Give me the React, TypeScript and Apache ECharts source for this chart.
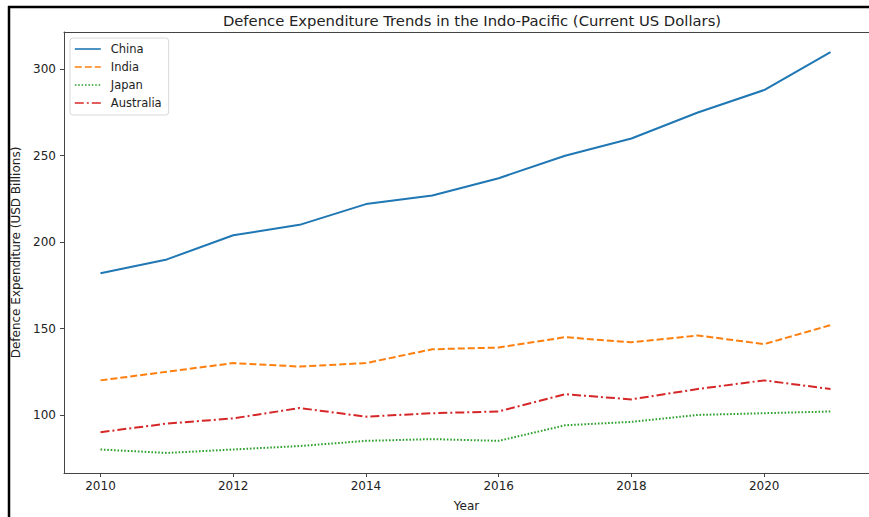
import React, { useEffect, useRef } from "react";
import * as echarts from "echarts";

const years = [2010, 2011, 2012, 2013, 2014, 2015, 2016, 2017, 2018, 2019, 2020, 2021];
const china = [182, 190, 204, 210, 222, 227, 237, 250, 260, 275, 288, 310];
const india = [120, 125, 130, 128, 130, 138, 139, 145, 142, 146, 141, 152];
const japan = [80, 78, 80, 82, 85, 86, 85, 94, 96, 100, 101, 102];
const australia = [90, 95, 98, 104, 99, 101, 102, 112, 109, 115, 120, 115];
const xTicks = [2010, 2012, 2014, 2016, 2018, 2020];
const yTicks = [100, 150, 200, 250, 300];

const FONT = "DejaVu Sans";
const SPINE = "#444";

export default function App() {
  const ref = useRef<HTMLDivElement>(null);
  useEffect(() => {
    if (!ref.current) return;
    const chart = echarts.init(ref.current, null, { renderer: "svg" });
    const mk = (name: string, vals: number[], color: string, type: any) => ({
      name,
      type: "line",
      xAxisIndex: 0,
      yAxisIndex: 0,
      data: years.map((y, i) => [y, vals[i]]),
      symbol: "none",
      showSymbol: false,
      lineStyle: { color, width: 2, type },
      itemStyle: { color },
    });
    chart.setOption({
      animation: false,
      backgroundColor: "#fff",
      title: {
        text: "Defence Expenditure Trends in the Indo-Pacific (Current US Dollars)",
        left: 467,
        top: 8,
        textAlign: "center",
        textStyle: { fontFamily: FONT, fontSize: 14.8, fontWeight: "normal", color: "#222" },
      },
      legend: {
        orient: "vertical",
        left: 70,
        top: 38,
        itemWidth: 26,
        itemHeight: 12,
        itemGap: 6,
        padding: [5, 7, 6, 4],
        backgroundColor: "#fff",
        borderColor: "#d8d8d8",
        borderWidth: 1,
        borderRadius: 3,
        itemStyle: { opacity: 0 },
        lineStyle: { width: 1.6 },
        textStyle: { fontFamily: FONT, fontSize: 11.5, color: "#222", padding: [0, 0, 0, 5] },
        data: ["China", "India", "Japan", "Australia"],
      },
      grid: {
        left: 64,
        top: 32,
        width: 808,
        height: 441,
        show: false,
        containLabel: false,
      },
      xAxis: [
        {
          type: "value",
          min: 2009.45,
          max: 2021.58,
          name: "Year",
          nameLocation: "middle",
          nameGap: 27,
          nameTextStyle: { fontFamily: FONT, fontSize: 12, color: "#222" },
          axisLine: { show: true, onZero: false, lineStyle: { color: SPINE, width: 1 } },
          splitLine: { show: false },
          axisTick: { show: true, inside: false, length: 4, customValues: xTicks, lineStyle: { color: SPINE } },
          axisLabel: {
            customValues: xTicks,
            formatter: (v: number) => String(v),
            fontFamily: FONT,
            fontSize: 12,
            color: "#222",
            margin: 7,
          },
        },
        {
          type: "value",
          position: "top",
          min: 2009.45,
          max: 2021.58,
          axisLine: { show: true, onZero: false, lineStyle: { color: SPINE, width: 1 } },
          axisTick: { show: false },
          axisLabel: { show: false },
          splitLine: { show: false },
        },
      ],
      yAxis: {
        type: "value",
        min: 66.4,
        max: 321.6,
        name: "Defence Expenditure (USD Billions)",
        nameLocation: "middle",
        nameGap: 32,
        nameTextStyle: { fontFamily: FONT, fontSize: 12, color: "#222" },
        axisLine: { show: true, onZero: false, lineStyle: { color: SPINE, width: 1 } },
        splitLine: { show: false },
        axisTick: { show: true, inside: false, length: 4, customValues: yTicks, lineStyle: { color: SPINE } },
        axisLabel: {
          customValues: yTicks,
          formatter: (v: number) => String(v),
          fontFamily: FONT,
          fontSize: 12,
          color: "#222",
          margin: 8,
        },
      },
      graphic: [
        { type: "line", shape: { x1: 9, y1: 6, x2: 9, y2: 517 }, style: { stroke: "#000", lineWidth: 2.5 }, z: 100 },
        { type: "line", shape: { x1: 8, y1: 7, x2: 869, y2: 7 }, style: { stroke: "#000", lineWidth: 2.5 }, z: 100 },
      ],
      series: [
        mk("China", china, "#1f77b4", "solid"),
        mk("India", india, "#ff7f0e", [7, 3]),
        mk("Japan", japan, "#2ca02c", [1.6, 1.8]),
        mk("Australia", australia, "#d62728", [9, 3, 2, 3]),
      ],
    });
    return () => chart.dispose();
  }, []);
  return (
    <div
      ref={ref}
      style={{ position: "absolute", left: 0, top: 0, width: 869, height: 517 }}
    />
  );
}
